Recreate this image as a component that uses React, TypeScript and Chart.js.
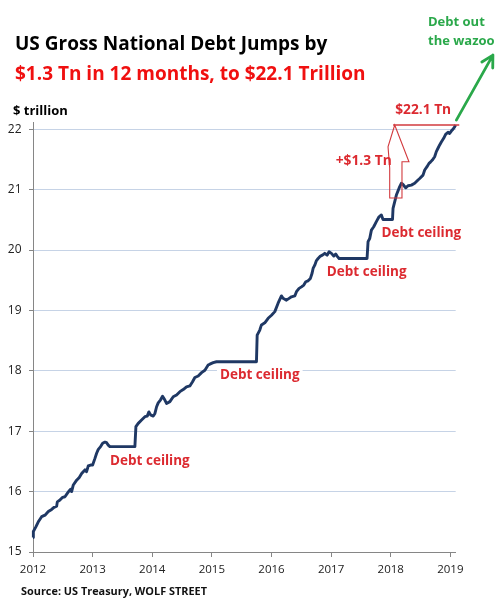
import React, { useEffect, useRef } from "react";
import { Chart, registerables } from "chart.js";

Chart.register(...registerables);

// ---- data ----
const years = [
  2012.0, 2012.006, 2012.05, 2012.089, 2012.145, 2012.201, 2012.257, 2012.313, 2012.352, 2012.397,
  2012.408, 2012.452, 2012.497, 2012.536, 2012.575, 2012.609, 2012.631, 2012.648, 2012.676, 2012.732,
  2012.776, 2012.816, 2012.843, 2012.871, 2012.899, 2012.927, 2012.966, 2013.0, 2013.039, 2013.067,
  2013.095, 2013.134, 2013.168, 2013.207, 2013.235, 2013.262, 2013.29, 2013.709, 2013.726, 2013.765,
  2013.821, 2013.877, 2013.916, 2013.944, 2013.972, 2014.017, 2014.045, 2014.073, 2014.1, 2014.14,
  2014.173, 2014.212, 2014.24, 2014.296, 2014.352, 2014.408, 2014.464, 2014.519, 2014.575, 2014.631,
  2014.676, 2014.715, 2014.771, 2014.827, 2014.883, 2014.938, 2014.966, 2015.022, 2015.078, 2015.748,
  2015.76, 2015.804, 2015.832, 2015.888, 2015.944, 2016.0, 2016.056, 2016.111, 2016.167, 2016.195,
  2016.251, 2016.296, 2016.335, 2016.391, 2016.419, 2016.463, 2016.503, 2016.542, 2016.575, 2016.614,
  2016.653, 2016.681, 2016.698, 2016.726, 2016.754, 2016.782, 2016.821, 2016.855, 2016.894, 2016.933,
  2016.966, 2017.006, 2017.045, 2017.078, 2017.1, 2017.134, 2017.603, 2017.62, 2017.648, 2017.676,
  2017.715, 2017.759, 2017.804, 2017.843, 2017.871, 2018.03, 2018.039, 2018.095, 2018.151, 2018.178,
  2018.206, 2018.251, 2018.29, 2018.346, 2018.402, 2018.458, 2018.486, 2018.542, 2018.57, 2018.609,
  2018.642, 2018.67, 2018.698, 2018.737, 2018.765, 2018.793, 2018.821, 2018.849, 2018.888, 2018.921,
  2018.961, 2018.988, 2019.016, 2019.044, 2019.072, 2019.089,
];
const debt = [
  15.24, 15.34, 15.42, 15.5, 15.585, 15.61, 15.67, 15.705, 15.74, 15.76,
  15.83, 15.86, 15.905, 15.915, 15.97, 16.015, 16.04, 16.0, 16.11, 16.19,
  16.235, 16.3, 16.33, 16.36, 16.33, 16.425, 16.44, 16.44, 16.55, 16.635,
  16.7, 16.745, 16.8, 16.82, 16.81, 16.77, 16.745, 16.745, 17.075, 17.13,
  17.185, 17.24, 17.25, 17.32, 17.27, 17.25, 17.295, 17.405, 17.47, 17.52,
  17.58, 17.515, 17.46, 17.49, 17.57, 17.6, 17.655, 17.69, 17.735, 17.75,
  17.82, 17.89, 17.915, 17.97, 18.01, 18.095, 18.11, 18.135, 18.15, 18.15,
  18.59, 18.675, 18.76, 18.795, 18.87, 18.92, 18.98, 19.12, 19.24, 19.2,
  19.17, 19.2, 19.225, 19.24, 19.31, 19.365, 19.39, 19.42, 19.475, 19.49,
  19.53, 19.615, 19.695, 19.75, 19.825, 19.86, 19.9, 19.915, 19.945, 19.915,
  19.97, 19.945, 19.9, 19.935, 19.9, 19.86, 19.86, 20.14, 20.19, 20.33,
  20.385, 20.47, 20.55, 20.58, 20.505, 20.505, 20.69, 20.91, 21.05, 21.105,
  21.085, 21.03, 21.065, 21.075, 21.105, 21.16, 21.185, 21.24, 21.325, 21.38,
  21.435, 21.46, 21.49, 21.545, 21.63, 21.685, 21.74, 21.79, 21.85, 21.915,
  21.95, 21.93, 21.97, 22.0, 22.04, 22.07,
];

const xMin = 2012;
const xMax = 2019.09;
const yMin = 15;
const yMax = 22.12;
const tickStep = 1;

// "Debt ceiling" label centres (year, $tn)
const ceilingX = [2013.961, 2015.804, 2017.597, 2018.514];
const ceilingY = [16.498, 17.93, 19.627, 20.273];

// red outline arrow (+$1.3 Tn) polygon, in data units
const redArrowX = [2018.067, 2018.306, 2018.189, 2018.189, 2017.983, 2017.983, 2017.955];
const redArrowY = [22.07, 21.462, 21.462, 20.861, 20.861, 21.358, 21.71];
// red level line at $22.1 Tn
const levelLineX = [2018.04, 2019.15];
const levelLineY = 22.07;

// labels
const labelTopX = 2018.544;
const labelTopY = 22.318;
const labelGainX = 2017.547;
const labelGainY = 21.474;

// green arrow
const greenArrowX = [2019.101, 2019.714];
const greenArrowY = [22.152, 23.228];

const FONT = '"Open Sans", "DejaVu Sans", sans-serif';
const RED_TEXT = "#dc2a30";
const RED_LINE = "#d23a3e";
const GREEN = "#2aa84a";

function drawFitText(
  ctx: CanvasRenderingContext2D,
  text: string,
  x: number,
  y: number,
  size: number,
  color: string,
  maxWidth: number,
  align: CanvasTextAlign = "left",
  baseline: CanvasTextBaseline = "alphabetic",
  bg?: string
) {
  ctx.save();
  ctx.font = `bold ${size}px ${FONT}`;
  ctx.textAlign = align;
  ctx.textBaseline = baseline;
  const w = Math.min(ctx.measureText(text).width, maxWidth);
  if (bg) {
    let left = x;
    if (align === "center") left = x - w / 2;
    else if (align === "right") left = x - w;
    ctx.fillStyle = bg;
    ctx.fillRect(left - 3, y - size * 0.75, w + 6, size * 1.5);
  }
  ctx.fillStyle = color;
  ctx.fillText(text, x, y, maxWidth);
  ctx.restore();
}

const annotationPlugin = {
  id: "wolfAnnotations",
  afterDatasetsDraw(chart: any) {
    const ctx: CanvasRenderingContext2D = chart.ctx;
    const xs = chart.scales.x;
    const ys = chart.scales.y;
    const px = (v: number) => xs.getPixelForValue(v);
    const py = (v: number) => ys.getPixelForValue(v);

    // Debt ceiling labels
    for (let i = 0; i < ceilingX.length; i++) {
      drawFitText(ctx, "Debt ceiling", px(ceilingX[i]), py(ceilingY[i]), 13.5, RED_TEXT, 80, "center", "middle", "#ffffff");
    }

    // red level line
    ctx.save();
    ctx.strokeStyle = RED_LINE;
    ctx.lineWidth = 1.3;
    ctx.beginPath();
    ctx.moveTo(px(levelLineX[0]), py(levelLineY));
    ctx.lineTo(px(levelLineX[1]), py(levelLineY));
    ctx.stroke();

    // red outline arrow
    ctx.beginPath();
    for (let i = 0; i < redArrowX.length; i++) {
      const X = px(redArrowX[i]);
      const Y = py(redArrowY[i]);
      if (i === 0) ctx.moveTo(X, Y);
      else ctx.lineTo(X, Y);
    }
    ctx.closePath();
    ctx.lineWidth = 1.1;
    ctx.stroke();
    ctx.restore();

    drawFitText(ctx, "$22.1 Tn", px(labelTopX), py(labelTopY), 14, RED_TEXT, 56, "center", "middle");
    drawFitText(ctx, "+$1.3 Tn", px(labelGainX), py(labelGainY), 14, RED_TEXT, 56, "center", "middle");

    // green arrow
    const x0 = px(greenArrowX[0]);
    const y0 = py(greenArrowY[0]);
    const x1 = px(greenArrowX[1]);
    const y1 = py(greenArrowY[1]);
    ctx.save();
    ctx.strokeStyle = GREEN;
    ctx.lineWidth = 2.8;
    ctx.lineCap = "round";
    ctx.lineJoin = "round";
    ctx.beginPath();
    ctx.moveTo(x0, y0);
    ctx.lineTo(x1, y1);
    const ang = Math.atan2(y1 - y0, x1 - x0);
    const hl = 13;
    const spread = 0.5;
    ctx.moveTo(x1 - hl * Math.cos(ang - spread), y1 - hl * Math.sin(ang - spread));
    ctx.lineTo(x1, y1);
    ctx.lineTo(x1 - hl * Math.cos(ang + spread), y1 - hl * Math.sin(ang + spread));
    ctx.stroke();
    ctx.restore();
  },
  afterDraw(chart: any) {
    const ctx: CanvasRenderingContext2D = chart.ctx;
    drawFitText(ctx, "US Gross National Debt Jumps by", 15, 50, 19, "#000000", 328);
    drawFitText(ctx, "$1.3 Tn in 12 months, to $22.1 Trillion", 15, 80, 19, "#f01010", 375);
    drawFitText(ctx, "$ trillion", 13, 115, 13, "#000000", 56);
    drawFitText(ctx, "Debt out", 428, 26, 13, GREEN, 60);
    drawFitText(ctx, "the wazoo", 428, 45, 13, GREEN, 70);
    drawFitText(ctx, "Source: US Treasury, WOLF STREET", 21, 595, 11, "#111111", 186);
  },
};

export default function App() {
  const ref = useRef<HTMLCanvasElement | null>(null);

  useEffect(() => {
    if (!ref.current) return;
    const points = years.map((x, i) => ({ x, y: debt[i] }));
    const chart = new Chart(ref.current, {
      type: "line",
      data: {
        datasets: [
          {
            data: points,
            borderColor: "#1f3864",
            borderWidth: 2.9,
            pointRadius: 0,
            tension: 0,
            clip: false as any,
            borderJoinStyle: "round",
          },
        ],
      },
      options: {
        responsive: false,
        animation: false,
        events: [],
        layout: { padding: { top: 122, right: 44.3, left: 0, bottom: 0 } },
        plugins: { legend: { display: false }, tooltip: { enabled: false }, title: { display: false } },
        scales: {
          x: {
            type: "linear",
            min: xMin,
            max: xMax,
            afterFit: (s: any) => {
              s.height = 47;
            },
            grid: { drawOnChartArea: false, tickColor: "#868686", tickLength: 5 },
            border: { color: "#868686", width: 1 },
            ticks: {
              stepSize: tickStep,
              includeBounds: false,
              maxRotation: 0,
              autoSkip: false,
              padding: 6,
              color: "#222222",
              font: { family: FONT, size: 11.5 },
              callback: (v: any) => String(v),
            },
          },
          y: {
            min: yMin,
            max: yMax,
            afterFit: (s: any) => {
              s.width = 33;
            },
            grid: { color: "#c6d3e6", tickColor: "#868686", tickLength: 4, lineWidth: 1 },
            border: { color: "#868686", width: 1 },
            ticks: {
              stepSize: tickStep,
              includeBounds: false,
              padding: 7.5,
              color: "#222222",
              font: { family: FONT, size: 12 },
              callback: (v: any) => String(v),
            },
          },
        },
      },
      plugins: [annotationPlugin],
    });
    return () => chart.destroy();
  }, []);

  return (
    <div style={{ position: "absolute", left: 0, top: 0, width: 500, height: 599, background: "#fff" }}>
      <canvas ref={ref} width={500} height={599} style={{ display: "block" }} />
    </div>
  );
}
